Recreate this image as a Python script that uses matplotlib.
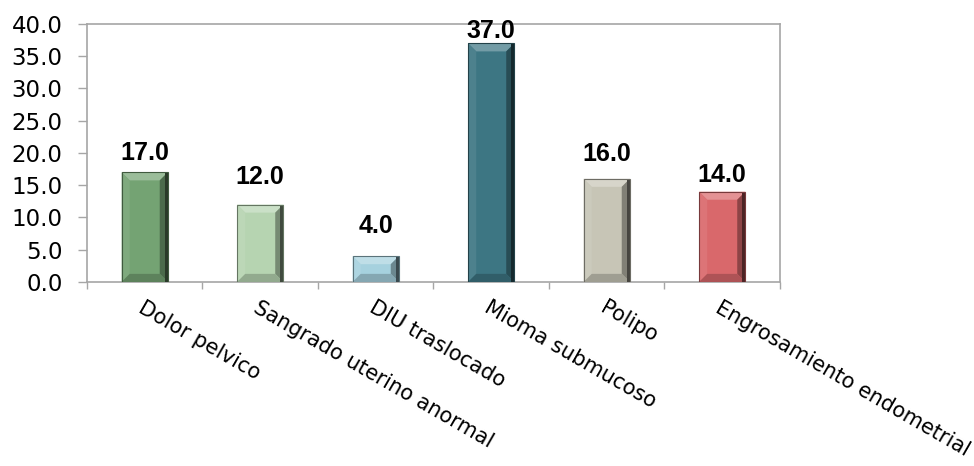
import numpy as np
import matplotlib.pyplot as plt
from matplotlib.patches import Polygon, Rectangle
from matplotlib.colors import to_rgb

plt.rcParams['font.family'] = ['DejaVu Sans']

# datos
categorias = ['Dolor pelvico', 'Sangrado uterino anormal', 'DIU traslocado',
              'Mioma submucoso', 'Polipo', 'Engrosamiento endometrial']
valores = [17.0, 12.0, 4.0, 37.0, 16.0, 14.0]

# estilo de cada barra
colores = ['#74a373', '#b6d4b1', '#a6d1de', '#3d7683', '#c7c5b6', '#d9686b']
desplaz_etiqueta = [5, 11, 13, 0, 9, 3]   # separacion de la etiqueta (puntos)
ancho = 0.4


def mezcla(color, otro, t):
    c = np.array(to_rgb(color))
    return tuple(c + (np.array(otro) - c) * t)


def barra_biselada(ax, x, h, color, bx, by):
    # barra con bisel: cara central y cuatro facetas
    x0, x1 = x - ancho / 2, x + ancho / 2
    by = min(by, h / 3)
    blanco, negro = (1, 1, 1), (0, 0, 0)
    caras = [
        ([(x0, 0), (x1, 0), (x1, h), (x0, h)], color),
        ([(x0, h), (x1, h), (x1 - bx, h - by), (x0 + bx, h - by)], mezcla(color, blanco, 0.28)),
        ([(x0, 0), (x0 + bx, by), (x0 + bx, h - by), (x0, h)], mezcla(color, blanco, 0.08)),
        ([(x1, 0), (x1, h), (x1 - bx, h - by), (x1 - bx, by)], mezcla(color, negro, 0.35)),
        ([(x0, 0), (x1, 0), (x1 - bx, by), (x0 + bx, by)], mezcla(color, negro, 0.2)),
    ]
    for pts, c in caras:
        ax.add_patch(Polygon(pts, closed=True, facecolor=c, edgecolor='none', zorder=3))
    # sombra del borde derecho
    ax.add_patch(Rectangle((x1 - bx * 0.4, 0), bx * 0.4, h,
                           facecolor=mezcla(color, negro, 0.65), edgecolor='none', zorder=3))
    ax.add_patch(Rectangle((x0, 0), ancho, h, facecolor='none',
                           edgecolor=mezcla(color, negro, 0.45), linewidth=0.8, zorder=4))


fig = plt.figure(figsize=(9.74, 4.66), dpi=100)
ax = fig.add_axes([0.0893, 0.395, 0.7115, 0.5535])

x = np.arange(len(categorias))
ax.set_xlim(-0.5, len(categorias) - 0.5)
ax.set_ylim(0, 40)

bx = 0.07
by = 1.25
for xi, v, c in zip(x, valores, colores):
    barra_biselada(ax, xi, v, c, bx, by)

for xi, v, d in zip(x, valores, desplaz_etiqueta):
    ax.annotate(f'{v:.1f}', (xi, v), xytext=(0, d), textcoords='offset points',
                ha='center', va='bottom', fontsize=18, fontweight='bold', zorder=5,
                family='Liberation Sans', annotation_clip=False)

# ejes
for s in ax.spines.values():
    s.set_color('#a6a6a6')
    s.set_linewidth(1.2)

ax.set_yticks(np.arange(0, 41, 5))
ax.set_yticklabels([f'{t:.1f}' for t in np.arange(0, 41, 5)])
ax.tick_params(axis='y', direction='out', length=6.5, width=1, color='#a6a6a6',
               labelsize=16.5, pad=11)

ax.set_xticks(x)
ax.set_xticklabels(categorias, rotation=-30, ha='left', va='top',
                   rotation_mode='anchor', fontsize=15)
ax.tick_params(axis='x', which='major', length=0, pad=11)
ax.set_xticks(np.arange(-0.5, len(categorias)), minor=True)
ax.tick_params(axis='x', which='minor', direction='out', length=5, width=1,
               color='#a6a6a6')

plt.savefig('out.png', dpi=100)
